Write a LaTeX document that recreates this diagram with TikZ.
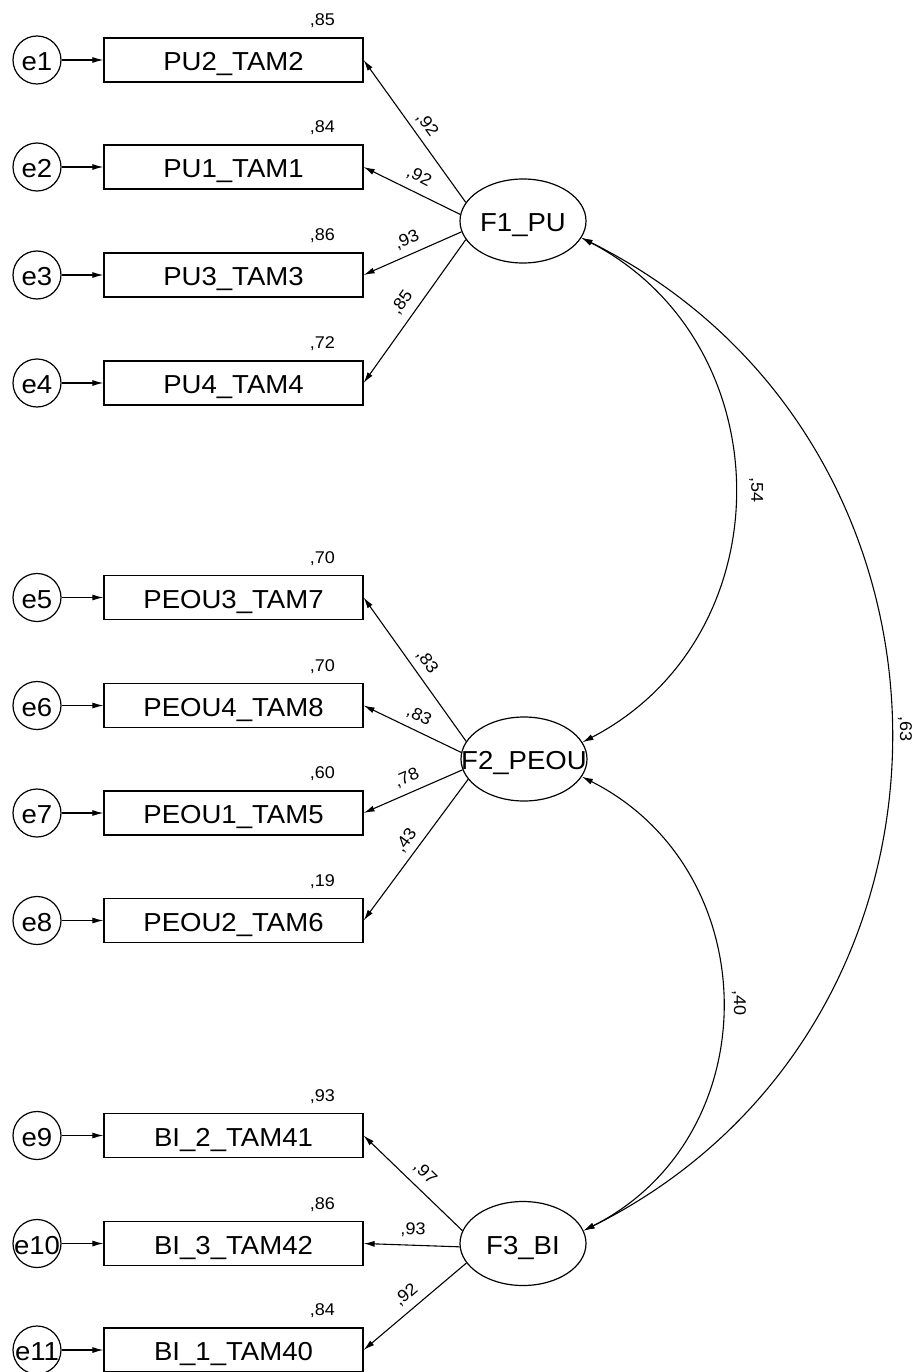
\documentclass[tikz,border=0pt]{standalone}
\usepackage{fontspec}
\setmainfont{Liberation Sans}[FakeStretch=1.06]
\usetikzlibrary{arrows.meta,shapes.geometric,calc}
\newcommand\nodefnt{\fontsize{26}{30}\selectfont}
\newcommand\lblfnt{\fontsize{17}{20}\selectfont}
\tikzset{
  obs/.style={draw, rectangle, minimum width=259pt, minimum height=44pt, inner sep=0pt,
    line width=1.2pt, font=\nodefnt, text height=21.6pt, text depth=0pt},
  err/.style={draw, circle, minimum size=48pt, inner sep=0pt,
    line width=1.2pt, font=\nodefnt, text height=21.6pt, text depth=0pt},
  lat/.style={draw, ellipse, minimum width=126pt, minimum height=84pt, inner sep=0pt,
    line width=1.2pt, font=\nodefnt, text height=21.6pt, text depth=0pt},
  arr/.style={-{Latex[length=11pt,width=6pt]}, line width=1.1pt},
  cov/.style={{Latex[length=11pt,width=6pt]}-{Latex[length=11pt,width=6pt]}, line width=1.1pt},
  lbl/.style={font=\lblfnt, inner sep=0pt},
  smc/.style={font=\lblfnt, inner sep=0pt, anchor=east}
}
\begin{document}
\begin{tikzpicture}[x=1pt,y=1pt]
\path[fill=white,use as bounding box] (0,0) rectangle (919,-1372);

% observed variables
\node[obs] (v1) at (233.5,-60) {PU2\_TAM2};
\node[obs] (v2) at (233.5,-167) {PU1\_TAM1};
\node[obs] (v3) at (233.5,-275) {PU3\_TAM3};
\node[obs] (v4) at (233.5,-383) {PU4\_TAM4};
\node[obs] (v5) at (233.5,-597.5) {PEOU3\_TAM7};
\node[obs] (v6) at (233.5,-705.5) {PEOU4\_TAM8};
\node[obs] (v7) at (233.5,-813) {PEOU1\_TAM5};
\node[obs] (v8) at (233.5,-920.5) {PEOU2\_TAM6};
\node[obs] (v9) at (233.5,-1135.5) {BI\_2\_TAM41};
\node[obs] (v10) at (233.5,-1243.5) {BI\_3\_TAM42};
\node[obs] (v11) at (233.5,-1350) {BI\_1\_TAM40};

% error terms
\node[err] (e1) at (37,-60) {e1};
\node[err] (e2) at (37,-167) {e2};
\node[err] (e3) at (37,-275) {e3};
\node[err] (e4) at (37,-383) {e4};
\node[err] (e5) at (37,-597.5) {e5};
\node[err] (e6) at (37,-705.5) {e6};
\node[err] (e7) at (37,-813) {e7};
\node[err] (e8) at (37,-920.5) {e8};
\node[err] (e9) at (37,-1135.5) {e9};
\node[err] (e10) at (37,-1243.5) {\makebox[0pt]{e10}};
\node[err] (e11) at (37,-1350) {\makebox[0pt]{e11}};

\foreach \i in {1,...,11} { \draw[arr] (e\i) -- (v\i); }

% latent variables
\node[lat] (F1) at (523,-221) {\makebox[0pt]{F1\_PU}};
\node[lat] (F2) at (524,-759) {\makebox[0pt]{F2\_PEOU}};
\node[lat] (F3) at (523,-1243.5) {\makebox[0pt]{F3\_BI}};

% loadings
\draw[arr] (F1.162.8) -- (v1.east);
\draw[arr] (F1.174.6) -- (v2.east);
\draw[arr] (F1.190.8) -- (v3.east);
\draw[arr] (F1.198.1) -- (v4.east);
\draw[arr] (F2.163.9) -- (v5.east);
\draw[arr] (F2.174.6) -- (v6.east);
\draw[arr] (F2.190.2) -- (v7.east);
\draw[arr] (F2.200.2) -- (v8.east);
\draw[arr] (F3.168) -- (v9.east);
\draw[arr] (F3.183) -- (v10.east);
\draw[arr] (F3.199) -- (v11.east);

% loading labels
\node[lbl,rotate=-54] (l1) at (427,-125) {,92};
\node[lbl,rotate=-27] (l2) at (419,-177) {,92};
\node[lbl,rotate=23] (l3) at (407,-240) {,93};
\node[lbl,rotate=54] (l4) at (402,-303) {,85};
\node[lbl,rotate=-55] (l5) at (427,-662) {,83};
\node[lbl,rotate=-26] (l6) at (419,-716) {,83};
\node[lbl,rotate=23] (l7) at (407,-778) {,78};
\node[lbl,rotate=54] (l8) at (406,-841) {,43};
\node[lbl,rotate=-44] (l9) at (425,-1173) {,97};
\node[lbl,rotate=-2] (l10) at (413,-1230) {,93};
\node[lbl,rotate=40] (l11) at (406,-1295) {,92};

% squared multiple correlations
\node[smc] (s1) at (335,-21) {,85};
\node[smc] (s2) at (335,-128) {,84};
\node[smc] (s3) at (335,-236) {,86};
\node[smc] (s4) at (335,-344) {,72};
\node[smc] (s5) at (335,-558.5) {,70};
\node[smc] (s6) at (335,-666.5) {,70};
\node[smc] (s7) at (335,-774) {,60};
\node[smc] (s8) at (335,-881.5) {,19};
\node[smc] (s9) at (335,-1096.5) {,93};
\node[smc] (s10) at (335,-1204.5) {,86};
\node[smc] (s11) at (335,-1311) {,84};

% covariances
\draw[cov] (F1.-16) to[out=-27.5,in=27.5,looseness=1.16] (F2.16);
\draw[cov] (F2.-17) to[out=-26.8,in=26.8,looseness=1.17] (F3.12);
\draw[cov] (F1.-16) to[out=-26.5,in=26.5,looseness=1.18] (F3.12);

\node[lbl,rotate=-90] (c12) at (756,-490) {,54};
\node[lbl,rotate=-90] (c23) at (739,-1003) {,40};
\node[lbl,rotate=-90] (c13) at (905,-729) {,63};
\end{tikzpicture}
\end{document}
